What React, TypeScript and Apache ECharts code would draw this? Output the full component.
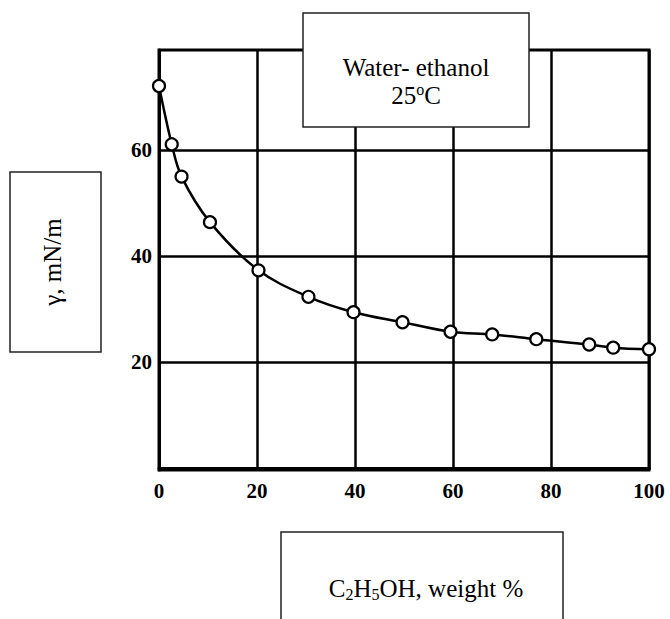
import React, { useEffect, useRef } from 'react';
import * as echarts from 'echarts';

const ethanolPercent = [0, 2.6, 4.6, 10.4, 20.3, 30.5, 39.7, 49.7, 59.5, 68, 77, 87.8, 92.7, 100];
const surfaceTension = [72.1, 61.1, 55.0, 46.4, 37.3, 32.3, 29.4, 27.5, 25.7, 25.2, 24.3, 23.3, 22.7, 22.4];
const yTickValues = [20, 40, 60];
const titleLines = ['Water- ethanol', '25', 'o', 'C'];
const yTitle = 'γ, mN/m';

const SERIF = '"Liberation Serif", "Times New Roman", serif';

export default function App() {
  const ref = useRef<HTMLDivElement>(null);
  useEffect(() => {
    if (!ref.current) return;
    const chart = echarts.init(ref.current, null, { renderer: 'svg' });
    const data = ethanolPercent.map((x, i) => [x, surfaceTension[i]]);
    chart.setOption({
      animation: false,
      backgroundColor: '#ffffff',
      grid: {
        left: 159,
        right: 21,
        top: 50,
        bottom: 149,
        show: true,
        borderColor: '#000',
        borderWidth: 3,
        backgroundColor: 'transparent',
      },
      xAxis: {
        type: 'value',
        min: 0,
        max: 100,
        interval: 20,
        axisLine: { show: true, lineStyle: { color: '#000', width: 3 } },
        axisTick: { show: false },
        splitLine: { show: true, lineStyle: { color: '#000', width: 2.5 } },
        axisLabel: {
          color: '#000',
          fontFamily: SERIF,
          fontWeight: 'bold',
          fontSize: 21,
          margin: 10,
        },
      },
      yAxis: {
        type: 'value',
        min: -0.4,
        max: 78.9,
        axisLine: { show: true, lineStyle: { color: '#000', width: 3 } },
        axisTick: { show: false, customValues: yTickValues },
        splitLine: { show: true, lineStyle: { color: '#000', width: 2.5 } },
        axisLabel: {
          customValues: yTickValues,
          color: '#000',
          fontFamily: SERIF,
          fontWeight: 'bold',
          fontSize: 21,
          margin: 7,
        },
      },
      series: [
        {
          type: 'line',
          data,
          smooth: 0.35,
          symbol: 'circle',
          symbolSize: 12,
          lineStyle: { color: '#000', width: 2.5 },
          itemStyle: { color: '#fff', borderColor: '#000', borderWidth: 2.2 },
          z: 5,
        },
      ],
      graphic: [
        {
          type: 'rect',
          z: 100,
          shape: { x: 303, y: 13, width: 226, height: 114 },
          style: { fill: '#fff', stroke: '#222', lineWidth: 1.5 },
        },
        {
          type: 'text',
          z: 101,
          x: 416,
          y: 67,
          style: {
            text: titleLines[0],
            fontFamily: SERIF,
            fontSize: 25,
            fill: '#000',
            align: 'center',
            verticalAlign: 'middle',
          },
        },
        {
          type: 'text',
          z: 101,
          x: 416,
          y: 95,
          style: {
            text: '{n|' + titleLines[1] + '}{sup|' + titleLines[2] + '}{n|' + titleLines[3] + '}',
            fontFamily: SERIF,
            fill: '#000',
            align: 'center',
            verticalAlign: 'middle',
            rich: {
              n: { fontFamily: SERIF, fontSize: 25, lineHeight: 28, fill: '#000' },
              sup: { fontFamily: SERIF, fontSize: 16, lineHeight: 12, verticalAlign: 'top', fill: '#000' },
            },
          },
        },
        {
          type: 'rect',
          z: 100,
          shape: { x: 10, y: 172, width: 91, height: 180 },
          style: { fill: '#fff', stroke: '#222', lineWidth: 1.5 },
        },
        {
          type: 'text',
          z: 101,
          x: 52,
          y: 262,
          rotation: Math.PI / 2,
          style: {
            text: yTitle,
            fontFamily: SERIF,
            fontSize: 25,
            fill: '#000',
            align: 'center',
            verticalAlign: 'middle',
          },
        },
        {
          type: 'rect',
          z: 100,
          shape: { x: 281, y: 532, width: 282, height: 100 },
          style: { fill: '#fff', stroke: '#222', lineWidth: 1.5 },
        },
        {
          type: 'text',
          z: 101,
          x: 426,
          y: 588,
          style: {
            text: '{n|C}{sub|2}{n|H}{sub|5}{n|OH, weight %}',
            fontFamily: SERIF,
            fill: '#000',
            align: 'center',
            verticalAlign: 'middle',
            rich: {
              n: { fontFamily: SERIF, fontSize: 25, lineHeight: 28, fill: '#000' },
              sub: { fontFamily: SERIF, fontSize: 16, lineHeight: 13, verticalAlign: 'bottom', fill: '#000' },
            },
          },
        },
      ],
    });
    return () => chart.dispose();
  }, []);
  return <div ref={ref} style={{ position: 'absolute', left: 0, top: 0, width: 670, height: 619 }} />;
}
